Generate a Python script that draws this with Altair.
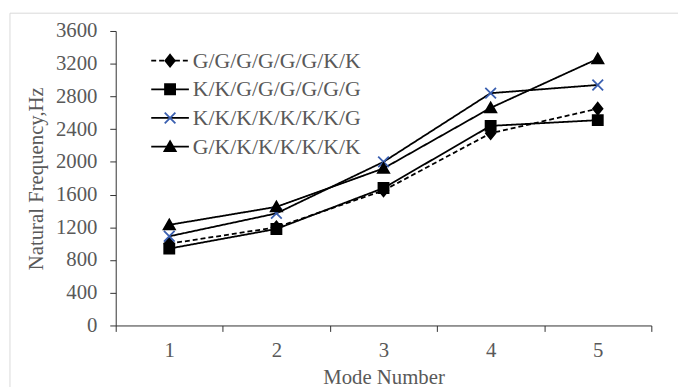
import altair as alt
import pandas as pd

modes = [1, 2, 3, 4, 5]
series_names = [
    "G/G/G/G/G/G/K/K",
    "K/K/G/G/G/G/G/G",
    "K/K/K/K/K/K/K/G",
    "G/K/K/K/K/K/K/K",
]
diamond_vals = [1000, 1200, 1650, 2350, 2650]
square_vals = [940, 1180, 1680, 2440, 2510]
cross_vals = [1090, 1370, 2000, 2840, 2940]
triangle_vals = [1230, 1450, 1920, 2660, 3260]
y_ticks = [0, 400, 800, 1200, 1600, 2000, 2400, 2800, 3200, 3600]

# marker-legend keys are kept distinct from line-legend keys so the two legends
# (line segments + markers) are not merged by Vega-Lite and can be overlaid
marker_keys = [n + " " for n in series_names]

rows = []
for name, key, vals in zip(series_names, marker_keys,
                           [diamond_vals, square_vals, cross_vals, triangle_vals]):
    for m, v in zip(modes, vals):
        rows.append({"mode": m, "freq": v, "series": name, "series2": key})
df = pd.DataFrame(rows)

FONT = "Liberation Serif"
GRAY = "#595959"

# marker paths in unit space (r = sqrt(size)/2)
shape_paths = [
    "M0,-0.4L0.32,0L0,0.4L-0.32,0Z",
    "M-0.34,-0.34H0.34V0.34H-0.34Z",
    "M-0.36,-0.36L0.36,0.36M-0.36,0.36L0.36,-0.36",
    "M0,-0.36L0.38,0.3H-0.38Z",
]
fills = ["black", "black", "transparent", "black"]
strokes = ["black", "black", "#3a5fb0", "black"]

x_enc = alt.X(
    "mode:O",
    title="Mode Number",
    bandPosition=0.5,
    scale=alt.Scale(type="band", paddingInner=0, paddingOuter=0),
    axis=alt.Axis(
        labelAngle=0, tickBand="extent", domainColor="#303030", tickColor="#303030",
        tickSize=6, labelPadding=8, labelFont=FONT, labelFontSize=21, labelColor=GRAY,
        titleFont=FONT, titleFontSize=21, titleColor=GRAY, titleFontWeight="normal",
        titlePadding=7, grid=False,
    ),
)
y_enc = alt.Y(
    "freq:Q",
    title="Natural Frequency,Hz",
    scale=alt.Scale(domain=[0, 3600], nice=False),
    axis=alt.Axis(
        values=y_ticks, format="d", domainColor="#303030", tickColor="#303030", tickSize=6,
        labelPadding=13, labelFont=FONT, labelFontSize=21, labelColor=GRAY,
        titleFont=FONT, titleFontSize=21, titleColor=GRAY, titleFontWeight="normal",
        titlePadding=9, grid=False,
    ),
)

lines = alt.Chart(df).mark_line(color="black", strokeWidth=1.8).encode(
    x=x_enc,
    y=y_enc,
    strokeDash=alt.StrokeDash(
        "series:N",
        scale=alt.Scale(domain=series_names, range=[[5, 3], [1, 0], [1, 0], [1, 0]]),
        legend=alt.Legend(
            orient="none", legendX=39, legendY=14, title=None, padding=0,
            symbolType="M-1.27,0H1.27", symbolSize=900, rowPadding=2, labelOffset=7,
            symbolStrokeColor="black", symbolStrokeWidth=1.8, symbolFillColor="transparent",
            labelFont=FONT, labelFontSize=22, labelLimit=400, labelColor=GRAY, zindex=0,
        ),
    ),
)

legend_b = alt.Legend(
    orient="none", legendX=39, legendY=14, title=None, padding=0,
    symbolSize=900, rowPadding=2, labelOffset=7,
    labelFont=FONT, labelFontSize=22, labelLimit=400,
    labelColor="transparent", zindex=1, symbolStrokeWidth=1.8, symbolOpacity=1,
)

points = alt.Chart(df).mark_point(
    filled=True, size=900, strokeWidth=1.8, strokeJoin="miter", opacity=1
).encode(
    x=x_enc,
    y=y_enc,
    shape=alt.Shape("series2:N", scale=alt.Scale(domain=marker_keys, range=shape_paths), legend=legend_b),
    fill=alt.Fill("series2:N", scale=alt.Scale(domain=marker_keys, range=fills), legend=legend_b),
    stroke=alt.Stroke("series2:N", scale=alt.Scale(domain=marker_keys, range=strokes), legend=legend_b),
)

frame = alt.Chart(alt.Data(values=[{}])).mark_rect(
    fill="transparent", stroke="#d9d9d9", strokeWidth=1
).encode(
    x=alt.value(-107), y=alt.value(-18), x2=alt.value(700), y2=alt.value(500)
)

chart = alt.layer(frame, lines, points).properties(
    width=542, height=298,
    autosize=alt.AutoSizeParams(type="none"),
    padding={"left": 109, "top": 21, "right": 27, "bottom": 60},
).configure_view(stroke=None)

chart.save("out.html", embed_options={"renderer": "svg", "actions": False})
